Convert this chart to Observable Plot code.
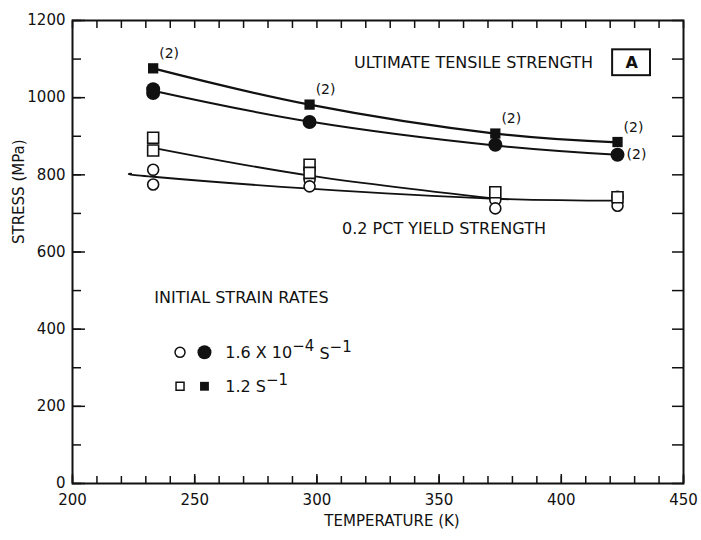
<!DOCTYPE html>
<html>
<head>
<meta charset="utf-8">
<script src="https://cdn.jsdelivr.net/npm/d3@7"></script>
<script src="https://cdn.jsdelivr.net/npm/@observablehq/plot@0.6"></script>
<style>
  html, body { margin: 0; padding: 0; background: #fff; }
  #chart { width: 701px; height: 540px; }
</style>
</head>
<body>
<div id="chart"></div>
<script>
// Test temperatures (K)
const temps = [233, 297, 373, 423];

// Individual test results, stress in MPa
// filled markers: ultimate tensile strength; open markers: 0.2 pct yield strength
const utsSlowT   = [233, 233, 297, 373, 423];          // 1.6e-4 s^-1, filled circles
const utsSlowV   = [1012, 1022, 937, 878, 852];
const utsFastT   = [233, 297, 373, 423];               // 1.2 s^-1, filled squares
const utsFastV   = [1076, 982, 907, 885];
const ysSlowT    = [233, 233, 297, 297, 373, 373, 423, 423]; // open circles
const ysSlowV    = [813, 775, 787, 770, 735, 713, 743, 720];
const ysFastT    = [233, 233, 297, 297, 373, 423];     // open squares
const ysFastV    = [896, 863, 826, 805, 755, 742];

// Faired curves through the results
const utsFastCurveT = [233, 297, 373, 423];
const utsFastCurveV = [1076, 982, 907, 884];
const utsSlowCurveT = [233, 297, 373, 423];
const utsSlowCurveV = [1018, 938, 876, 852];
const ysFastCurveT  = [233, 297, 373];
const ysFastCurveV  = [870, 798, 738];
const ysSlowCurveT  = [224, 233, 297, 373, 423];
const ysSlowCurveV  = [803, 795, 764, 738, 733];

// "(2)" duplicate-test notes
const dupUpperT = [233, 297, 373, 423];
const dupUpperV = [1076, 982, 907, 885];
const dupLowerT = [423];
const dupLowerV = [852];

// Strain-rate key entries: [main text, superscript, ...] pieces
const keySlowParts = [["1.6 X 10", false], ["−4", true], [" S", false], ["−1", true]];
const keyFastParts = [["1.2 S", false], ["−1", true]];

// Axis ticks
const xLabelTicks = [200, 250, 300, 350, 400, 450];
const xMinorTicks = d3.range(200, 451, 10);
const yLabelTicks = [0, 200, 400, 600, 800, 1000, 1200];
const yMinorTicks = d3.range(0, 1201, 100);

const pts = (T, V) => T.map((t, i) => ({t, v: V[i]}));
const plain = (parts) => parts.map(([s]) => s).join("");

const font = "DejaVu Sans, Verdana, sans-serif";
const ink = "#111";

const chart = Plot.plot({
  width: 701,
  height: 540,
  marginLeft: 72,
  marginRight: 18,
  marginTop: 20,
  marginBottom: 57,
  x: {domain: [200, 450]},
  y: {domain: [0, 1200]},
  style: {fontFamily: font, fontSize: "15px", color: ink, background: "#fff"},
  marks: [
    // tick labels
    Plot.axisX(xLabelTicks, {anchor: "bottom", tickSize: 0, tickPadding: 11, tickFormat: d3.format("d"), label: null, fontSize: 15}),
    Plot.axisY(yLabelTicks, {anchor: "left", tickSize: 0, tickPadding: 7, tickFormat: d3.format("d"), label: null, fontSize: 15}),
    // inward ticks on all four sides
    Plot.axisX(xMinorTicks, {anchor: "bottom", tickSize: -7, tickFormat: () => "", label: null, strokeWidth: 1.5}),
    Plot.axisX(xLabelTicks, {anchor: "bottom", tickSize: -9, tickFormat: () => "", label: null, strokeWidth: 1.5}),
    Plot.axisX(xMinorTicks, {anchor: "top", tickSize: -7, tickFormat: () => "", label: null, strokeWidth: 1.5}),
    Plot.axisY(yMinorTicks, {anchor: "left", tickSize: -9, tickFormat: () => "", label: null, strokeWidth: 1.5}),
    Plot.axisY(yLabelTicks, {anchor: "left", tickSize: -13, tickFormat: () => "", label: null, strokeWidth: 1.5}),
    Plot.axisY(yMinorTicks, {anchor: "right", tickSize: -12, tickFormat: () => "", label: null, strokeWidth: 1.5}),
    Plot.frame({stroke: ink, strokeWidth: 2}),

    // axis titles
    Plot.text(["STRESS (MPa)"], {frameAnchor: "left", dx: -53, dy: -8, rotate: -90, fontSize: 15, fill: ink}),
    Plot.text(["TEMPERATURE (K)"], {frameAnchor: "bottom", dx: 14, dy: 42, fontSize: 15, fill: ink}),

    // faired curves
    Plot.line(pts(utsFastCurveT, utsFastCurveV), {x: "t", y: "v", curve: "natural", stroke: ink, strokeWidth: 2.2}),
    Plot.line(pts(utsSlowCurveT, utsSlowCurveV), {x: "t", y: "v", curve: "natural", stroke: ink, strokeWidth: 2}),
    Plot.line(pts(ysFastCurveT, ysFastCurveV), {x: "t", y: "v", curve: "natural", stroke: ink, strokeWidth: 1.8}),
    Plot.line(pts(ysSlowCurveT, ysSlowCurveV), {x: "t", y: "v", curve: "natural", stroke: ink, strokeWidth: 1.8}),

    // test results
    Plot.dot(pts(ysSlowT, ysSlowV), {x: "t", y: "v", r: 5.5, stroke: ink, strokeWidth: 1.6, fill: "#fff"}),
    Plot.dot(pts(ysFastT, ysFastV), {x: "t", y: "v", symbol: "square", r: 6.2, stroke: ink, strokeWidth: 1.6, fill: "#fff"}),
    Plot.dot(pts(utsSlowT, utsSlowV), {x: "t", y: "v", r: 7, fill: ink, stroke: "none"}),
    Plot.dot(pts(utsFastT, utsFastV), {x: "t", y: "v", symbol: "square", r: 5.8, fill: ink, stroke: "none"}),

    // duplicate-test notes
    Plot.text(pts(dupUpperT, dupUpperV), {x: "t", y: "v", text: () => "(2)", dx: 16, dy: -15, fontSize: 14, fill: ink}),
    Plot.text(pts(dupLowerT, dupLowerV), {x: "t", y: "v", text: () => "(2)", dx: 19, dy: 0, fontSize: 14, fill: ink}),

    // curve labels
    Plot.text(["ULTIMATE TENSILE STRENGTH"], {x: 413, y: 1090, textAnchor: "end", fontSize: 16, fill: ink}),
    Plot.rect([{x1: 421, x2: 436.5, y1: 1057, y2: 1124}], {x1: "x1", x2: "x2", y1: "y1", y2: "y2", fill: "none", stroke: ink, strokeWidth: 2}),
    Plot.text(["A"], {x: 428.8, y: 1090, fontSize: 16, fontWeight: "bold", fill: ink}),
    Plot.text(["0.2 PCT YIELD STRENGTH"], {x: 352, y: 661, fontSize: 16, fill: ink}),

    // strain-rate key
    Plot.text(["INITIAL STRAIN RATES"], {x: 233.5, y: 482, textAnchor: "start", fontSize: 16, fill: ink}),
    Plot.dot([{t: 244, v: 340}], {x: "t", y: "v", r: 5, stroke: ink, strokeWidth: 1.5, fill: "#fff"}),
    Plot.dot([{t: 254, v: 340}], {x: "t", y: "v", r: 7, fill: ink}),
    Plot.text([plain(keySlowParts)], {x: 262.5, y: 338, textAnchor: "start", fontSize: 16, fill: ink}),
    Plot.dot([{t: 244, v: 252}], {x: "t", y: "v", symbol: "square", r: 4.5, stroke: ink, strokeWidth: 1.5, fill: "#fff"}),
    Plot.dot([{t: 254, v: 252}], {x: "t", y: "v", symbol: "square", r: 5, fill: ink}),
    Plot.text([plain(keyFastParts)], {x: 262.5, y: 250, textAnchor: "start", fontSize: 16, fill: ink})
  ]
});

// Raise the exponents in the strain-rate key
for (const parts of [keySlowParts, keyFastParts]) {
  const full = plain(parts);
  d3.select(chart).selectAll("text").filter(function () { return this.textContent === full; })
    .each(function () {
      const t = d3.select(this).text(null);
      let raised = false;
      for (const [s, sup] of parts) {
        const span = t.append("tspan").text(s);
        if (sup && !raised) { span.attr("dy", "-0.45em").attr("font-size", 15); raised = true; }
        else if (!sup && raised) { span.attr("dy", "0.45em"); raised = false; }
        else if (sup) span.attr("font-size", 15);
      }
    });
}

document.getElementById("chart").appendChild(chart);
</script>
</body>
</html>
